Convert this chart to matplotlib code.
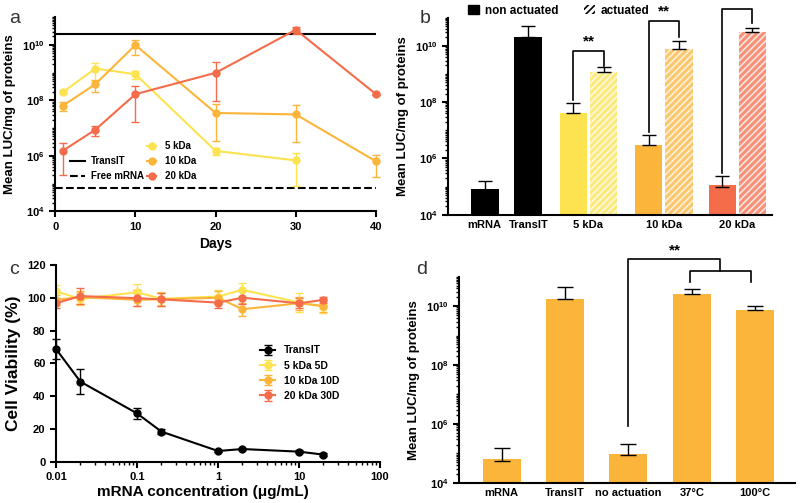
import numpy as np
import matplotlib
matplotlib.use("Agg")
import matplotlib.pyplot as plt
from matplotlib.ticker import LogLocator, NullFormatter, FixedLocator
from matplotlib.lines import Line2D
from matplotlib.patches import Patch

plt.rcParams['font.family'] = ['Liberation Sans', 'DejaVu Sans']
plt.rcParams['font.weight'] = 'bold'
plt.rcParams['hatch.linewidth'] = 1.2

YEL = '#fde350'
ORA = '#fbb53b'
RED = '#f46c4a'

# ---- panel a: expression over days ----
days = [1, 5, 10, 20, 30, 40]
transit_level = 2.5e10
free_mrna_level = 7e4
kda5_days = [1, 5, 10, 20, 30]
kda5 = [2.0e8, 1.4e9, 8.7e8, 1.5e6, 6.8e5]
kda5_sd = [0.3e8, 0.9e9, 3.0e8, 0.4e6, 6.0e5]
kda10 = [6.5e7, 3.8e8, 9.8e9, 3.5e7, 3.1e7, 6.3e5]
kda10_sd = [2.5e7, 1.8e8, 5.5e9, 3.7e7, 3.5e7, 4.6e5]
kda20 = [1.55e6, 8.7e6, 1.66e8, 9.8e8, 3.5e10, 1.66e8]
kda20_sd = [1.35e6, 3.5e6, 1.6e8, 1.5e9, 1.0e10, 0.1e8]

# ---- panel b: actuated vs non actuated ----
b_groups = ['mRNA', 'TransIT', '5 kDa', '10 kDa', '20 kDa']
b_non = [7.2e4, 2.1e10, 4.2e7, 2.9e6, 1.0e5]
b_non_sd = [8e4, 3e10, 5.3e7, 4.1e6, 1.3e5]
b_act = [1.2e9, 8.0e9, 3.0e10]
b_act_sd = [0.5e9, 6.5e9, 1.3e10]

# ---- panel c: viability ----
conc = [0.01, 0.02, 0.1, 0.2, 1, 2, 10, 20]
via_transit = [68.8, 48.9, 29.6, 18.5, 6.7, 7.9, 6.3, 4.5]
via_transit_sd = [6.3, 7.5, 3.5, 1.6, 0.8, 0.8, 0.8, 0.8]
via_5 = [103.8, 99.3, 103.3, 99.3, 100.7, 104.8, 97.1, 94.6]
via_5_sd = [4, 4, 5, 4, 4, 4, 6, 4]
via_10 = [98.7, 100.3, 98.7, 99.0, 100.0, 93.0, 96.6, 95.0]
via_10_sd = [3, 4, 4, 4, 4, 4, 4, 4]
via_20 = [96.6, 101.0, 99.7, 99.0, 97.0, 100.0, 96.6, 98.7]
via_20_sd = [3, 5, 5, 4, 3, 4, 3, 2]

# ---- panel d: actuation temperature ----
d_labels = ['mRNA', 'TransIT', 'no actuation', '37°C', '100°C']
d_vals = [5.5e4, 1.7e10, 8.7e4, 2.5e10, 7.3e9]
d_sd = [9.5e4, 2.8e10, 1.3e5, 1.4e10, 2.7e9]

fig = plt.figure(figsize=(8, 5.03), dpi=100)


def style(ax):
    for s in ['top', 'right']:
        ax.spines[s].set_visible(False)
    for s in ['left', 'bottom']:
        ax.spines[s].set_linewidth(1.5)
    ax.tick_params(width=1.5, length=4, labelsize=8)
    ax.tick_params(which='minor', width=1, length=2)


def logy(ax):
    ax.set_yscale('log')
    ax.set_ylim(1e4, 1e11)
    ax.yaxis.set_major_locator(FixedLocator([1e4, 1e6, 1e8, 1e10]))
    ax.yaxis.set_minor_locator(LogLocator(base=10, subs=np.arange(1, 10) * 1.0, numticks=20))
    ax.yaxis.set_minor_formatter(NullFormatter())


def lower(v, sd):
    return [min(s, m * 0.9) for m, s in zip(v, sd)]


# panel a
axa = fig.add_axes([0.069, 0.580, 0.401, 0.386])
style(axa)
logy(axa)
axa.set_xlim(0, 40)
axa.set_xticks([0, 10, 20, 30, 40])
axa.axhline(transit_level, color='black', lw=1.5)
axa.axhline(free_mrna_level, color='black', lw=1.5, ls='--')
for d, v, sd, c in [(kda5_days, kda5, kda5_sd, YEL), (days, kda10, kda10_sd, ORA), (days, kda20, kda20_sd, RED)]:
    axa.errorbar(d, v, yerr=[lower(v, sd), sd], color=c, marker='o', ms=5, lw=1.5,
                 capsize=3, elinewidth=1, clip_on=False)
axa.set_xlabel('Days', fontsize=10, fontweight='bold')
axa.set_ylabel('Mean LUC/mg of proteins', fontsize=9.5, fontweight='bold')
leg1 = axa.legend([Line2D([], [], color='black', lw=1.5), Line2D([], [], color='black', lw=1.5, ls='--')],
                  ['TransIT', 'Free mRNA'], loc='lower left', bbox_to_anchor=(0.02, 0.11),
                  frameon=False, fontsize=7, handlelength=1.5, handletextpad=0.6)
axa.add_artist(leg1)
axa.legend([Line2D([], [], color=c, marker='o', ms=5) for c in [YEL, ORA, RED]],
           ['5 kDa', '10 kDa', '20 kDa'], loc='lower left', bbox_to_anchor=(0.26, 0.11),
           frameon=False, fontsize=7, handlelength=0.9, handletextpad=0.9)
fig.text(0.012, 0.955, 'a', fontsize=14, fontweight='light', color='#333333')

# panel b
axb = fig.add_axes([0.56, 0.573, 0.405, 0.392])
style(axb)
logy(axb)
xb_non = [0, 1.45, 2.95, 5.45, 7.9]
xb_act = [3.95, 6.45, 8.9]
cols_non = ['black', 'black', YEL, ORA, RED]
axb.bar(xb_non, b_non, width=0.92, color=cols_non, bottom=1e4)
axb.errorbar(xb_non, b_non, yerr=[[0] * 5, b_non_sd], fmt='none', ecolor='black', capsize=5, elinewidth=1)
for x, v, c in zip(xb_act, b_act, [YEL, ORA, RED]):
    axb.bar(x, v, width=0.92, color=c, alpha=0.75, edgecolor='white', linewidth=0, hatch='/////', bottom=1e4)
axb.errorbar(xb_act, b_act, yerr=[[0] * 3, b_act_sd], fmt='none', ecolor='black', capsize=5, elinewidth=1)
axb.set_xlim(-1.22, 9.55)
axb.set_xticks([0, 1.45, 3.45, 5.95, 8.4])
axb.set_xticklabels(b_groups)
axb.tick_params(axis='x', length=0)
axb.set_ylabel('Mean LUC/mg of proteins', fontsize=9.5, fontweight='bold')
# significance brackets
for xl, xr, yl, yt, yr, star in [(2.95, 3.95, 1.2e8, 6.6e9, 1.9e9, True),
                                 (5.45, 6.45, 9.0e6, 7.4e10, 2.0e10, True),
                                 (7.9, 8.9, 3.0e5, 2.0e11, 6.3e10, False)]:
    axb.plot([xl, xl, xr, xr], [yl, yt, yt, yr], color='black', lw=1.2, clip_on=False)
    if star:
        axb.text((xl + xr) / 2, yt * 1.25, '**', ha='center', va='bottom', fontsize=11, fontweight='bold')
fig.legend([Patch(color='black'), Patch(facecolor='white', edgecolor='black', hatch='/////', linewidth=0)],
           ['non actuated', 'actuated'], loc='upper left', bbox_to_anchor=(0.572, 1.012), ncol=2,
           frameon=False, fontsize=8.5, handlelength=0.9, handleheight=0.9, columnspacing=2.2,
           handletextpad=0.5)
fig.text(0.525, 0.955, 'b', fontsize=14, fontweight='light', color='#333333')

# panel c
axc = fig.add_axes([0.07, 0.0815, 0.405, 0.392])
style(axc)
axc.set_xscale('log')
axc.set_xlim(0.01, 100)
axc.set_ylim(0, 120)
axc.set_yticks([0, 20, 40, 60, 80, 100, 120])
axc.set_xticks([0.01, 0.1, 1, 10, 100])
axc.set_xticklabels(['0.01', '0.1', '1', '10', '100'])
axc.xaxis.set_minor_locator(LogLocator(base=10, subs=np.arange(2, 10) * 1.0, numticks=20))
axc.xaxis.set_minor_formatter(NullFormatter())
for v, sd, c, lab in [(via_5, via_5_sd, YEL, '5 kDa 5D'), (via_10, via_10_sd, ORA, '10 kDa 10D'),
                      (via_20, via_20_sd, RED, '20 kDa 30D')]:
    axc.errorbar(conc, v, yerr=sd, color=c, marker='o', ms=5, lw=1.5, capsize=3, elinewidth=1, label=lab)
axc.errorbar(conc, via_transit, yerr=via_transit_sd, color='black', marker='o', ms=5, lw=1.5,
             capsize=3, elinewidth=1, label='TransIT', clip_on=False)
h, l = axc.get_legend_handles_labels()
axc.legend([h[3], h[0], h[1], h[2]], [l[3], l[0], l[1], l[2]], loc='center left',
           bbox_to_anchor=(0.6, 0.45), frameon=False, fontsize=7.5, handlelength=1.5)
axc.set_xlabel('mRNA concentration (μg/mL)', fontsize=11, fontweight='bold')
axc.xaxis.set_label_coords(0.454, -0.115)
axc.set_ylabel('Cell Viability (%)', fontsize=12.5, fontweight='bold')
fig.text(0.012, 0.455, 'c', fontsize=14, fontweight='light', color='#333333')

# panel d
axd = fig.add_axes([0.574, 0.04, 0.42, 0.41])
style(axd)
logy(axd)
xd = np.arange(len(d_labels))
axd.bar(xd, d_vals, width=0.6, color=ORA, bottom=1e4)
axd.errorbar(xd, d_vals, yerr=[[0] * 5, d_sd], fmt='none', ecolor='black', capsize=6, elinewidth=1)
axd.set_xlim(-0.67, 4.63)
axd.set_xticks(xd)
axd.set_xticklabels(d_labels)
axd.tick_params(axis='x', length=0)
axd.set_ylabel('Mean LUC/mg of proteins', fontsize=9.5, fontweight='bold')
axd.plot([2, 2, 3.45, 3.45], [8.5e5, 3.9e11, 3.9e11, 1.5e11], color='black', lw=1.2, clip_on=False)
axd.plot([2.97, 2.97, 3.93, 3.93], [6.6e10, 1.5e11, 1.5e11, 6.6e10], color='black', lw=1.2, clip_on=False)
axd.text(2.73, 4.5e11, '**', ha='center', va='bottom', fontsize=11, fontweight='bold')
fig.text(0.52, 0.455, 'd', fontsize=14, fontweight='light', color='#333333')

fig.savefig('out.png', dpi=100)
